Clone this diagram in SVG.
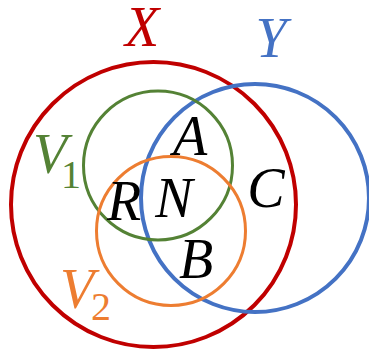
<svg xmlns="http://www.w3.org/2000/svg" width="369" height="356" viewBox="0 0 369 356">
<style>
.c{fill:none}
.t{font-family:"Liberation Serif",serif;font-style:italic;font-size:56px;text-anchor:middle}
.s{font-family:"Liberation Serif",serif;font-size:40px;text-anchor:middle}
</style>
<rect width="369" height="356" fill="#fff"/>
<g id="X"><circle class="c" cx="153.5" cy="204.5" r="142.5" stroke="#C00000" stroke-width="4"/><text class="t" x="142" y="46" fill="#C00000">X</text></g>
<g id="Y"><circle class="c" cx="255" cy="198" r="114" stroke="#4472C4" stroke-width="4"/><text class="t" x="271" y="57" fill="#4472C4">Y</text></g>
<g id="V1"><circle class="c" cx="158" cy="165.5" r="74.5" stroke="#548235" stroke-width="3"/><text class="t" x="50" y="173" fill="#548235">V</text><text class="s" x="71" y="188" fill="#548235">1</text></g>
<g id="V2"><circle class="c" cx="171" cy="231" r="74.5" stroke="#ED7D31" stroke-width="3"/><text class="t" x="77" y="308" fill="#ED7D31">V</text><text class="s" x="101" y="320" fill="#ED7D31">2</text></g>
<g id="labels">
<text class="t" x="190" y="155">A</text>
<text class="t" x="174" y="217">N</text>
<text class="t" x="124" y="220">R</text>
<text class="t" x="266" y="207">C</text>
<text class="t" x="196" y="278">B</text>
</g>
<g id="connectors"/>
</svg>
